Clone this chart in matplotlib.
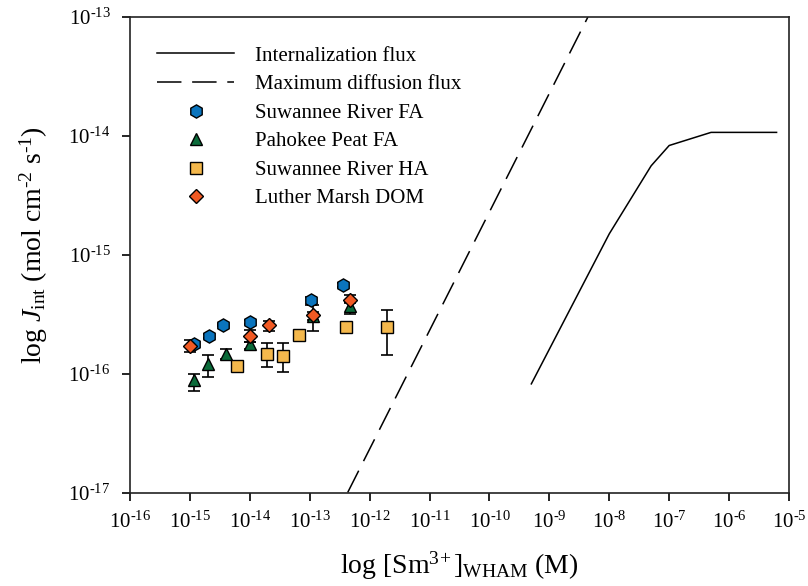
import matplotlib
matplotlib.use('Agg')
import matplotlib.pyplot as plt
from matplotlib.ticker import FuncFormatter
import numpy as np

plt.rcParams['font.family'] = ['Liberation Serif', 'DejaVu Serif']
plt.rcParams['mathtext.fontset'] = 'custom'
plt.rcParams['mathtext.rm'] = 'Liberation Serif'
plt.rcParams['mathtext.it'] = 'Liberation Serif:italic'
plt.rcParams['mathtext.bf'] = 'Liberation Serif:bold'
plt.rcParams['axes.unicode_minus'] = False

HY = '\u2010'  # short hyphen as in the original labels

# model curves
intern_conc = [5e-10, 1e-8, 5e-8, 1e-7, 5e-7, 6.2e-6]
intern_flux = [8.2e-17, 1.5e-15, 5.6e-15, 8.3e-15, 1.07e-14, 1.07e-14]
diff_conc = [4.3e-13, 4.4e-9]
diff_flux = [1e-17, 1e-13]

# measured fluxes: x, y, lower bound, upper bound
srfa_x = [1.15e-15, 2.05e-15, 3.6e-15, 1.0e-14, 1.07e-13, 3.6e-13]
srfa_y = [1.78e-16, 2.07e-16, 2.56e-16, 2.7e-16, 4.16e-16, 5.6e-16]
srfa_lo = [1.7e-16, 2.0e-16, 2.5e-16, 2.6e-16, 3.8e-16, 5.4e-16]
srfa_hi = [1.86e-16, 2.14e-16, 2.62e-16, 2.8e-16, 4.45e-16, 5.8e-16]

ppfa_x = [1.15e-15, 2.0e-15, 4.0e-15, 1.0e-14, 1.15e-13, 4.7e-13]
ppfa_y = [8.8e-17, 1.2e-16, 1.46e-16, 1.78e-16, 3.05e-16, 3.7e-16]
ppfa_lo = [7.2e-17, 9.4e-17, 1.32e-16, 1.6e-16, 2.3e-16, 3.2e-16]
ppfa_hi = [1.0e-16, 1.43e-16, 1.6e-16, 1.85e-16, 3.3e-16, 4.0e-16]

srha_x = [6.2e-15, 1.9e-14, 3.6e-14, 6.6e-14, 4.0e-13, 1.95e-12]
srha_y = [1.16e-16, 1.47e-16, 1.42e-16, 2.1e-16, 2.45e-16, 2.45e-16]
srha_lo = [1.1e-16, 1.14e-16, 1.03e-16, 2.0e-16, 2.3e-16, 1.43e-16]
srha_hi = [1.2e-16, 1.82e-16, 1.82e-16, 2.2e-16, 2.6e-16, 3.4e-16]

lmd_x = [1.0e-15, 1.0e-14, 2.1e-14, 1.15e-13, 4.7e-13]
lmd_y = [1.7e-16, 2.07e-16, 2.56e-16, 3.1e-16, 4.2e-16]
lmd_lo = [1.53e-16, 1.85e-16, 2.28e-16, 2.8e-16, 3.9e-16]
lmd_hi = [1.92e-16, 2.33e-16, 2.78e-16, 3.78e-16, 4.6e-16]

series = [
    ('Suwannee River FA', srfa_x, srfa_y, srfa_lo, srfa_hi, 'h', '#0a74bd', 9.5),
    ('Pahokee Peat FA', ppfa_x, ppfa_y, ppfa_lo, ppfa_hi, '^', '#0b6b3a', 8.5),
    ('Suwannee River HA', srha_x, srha_y, srha_lo, srha_hi, 's', '#f4b84c', 8),
    ('Luther Marsh DOM', lmd_x, lmd_y, lmd_lo, lmd_hi, 'D', '#f15a24', 7.5),
]

fig = plt.figure(figsize=(8.08, 5.86), dpi=100)
ax = fig.add_axes([130 / 808, 1 - 492.5 / 586, 659 / 808, 475.5 / 586])

ax.plot(intern_conc, intern_flux, color='black', lw=1.1, label='Internalization flux')
ax.plot(diff_conc, diff_flux, color='black', lw=1.1, dashes=(16, 7), label='Maximum diffusion flux')

for name, x, y, lo, hi, mk, col, ms in series:
    y = np.array(y)
    yerr = [y - np.array(lo), np.array(hi) - y]
    ax.errorbar(x, y, yerr=yerr, fmt='none', ecolor='black', elinewidth=1.2,
                capsize=4.5, capthick=1.2, zorder=3)
    ax.plot(x, y, ls='none', marker=mk, ms=ms, mfc=col, mec='black', mew=1.0,
            label=name, zorder=4)


def pow10(v, pos):
    e = int(round(np.log10(v)))
    sign = HY if e < 0 else ''
    return '$10^{%s%d}$' % (sign, abs(e))


ax.set_xscale('log')
ax.set_yscale('log')
ax.set_xlim(1e-16, 1e-5)
ax.set_ylim(1e-17, 1e-13)
ax.set_xticks([10.0 ** k for k in range(-16, -4)])
ax.set_yticks([10.0 ** k for k in range(-17, -12)])
ax.xaxis.set_major_formatter(FuncFormatter(pow10))
ax.yaxis.set_major_formatter(FuncFormatter(pow10))
ax.minorticks_off()
ax.tick_params(direction='out', length=6, width=1.2, labelsize=15, pad=8)
for s in ax.spines.values():
    s.set_linewidth(1.2)
    s.set_color('#222222')

ax.set_xlabel(r'log [Sm$^{3\!+}$]$_{\mathrm{WHAM}}$ (M)', fontsize=20, labelpad=12)
ax.set_ylabel(r'log $J_{\mathrm{int}}$ (mol cm$^{%s2}$ s$^{%s1}$)' % (HY, HY), fontsize=20)
ax.yaxis.set_label_coords(-0.122, 0.52)

ax.legend(loc='upper left', bbox_to_anchor=(0.022, 0.965), frameon=False, fontsize=15,
          handlelength=3.7, handletextpad=1.0, labelspacing=0.43, borderaxespad=0.2)

fig.savefig('out.png', dpi=100)
